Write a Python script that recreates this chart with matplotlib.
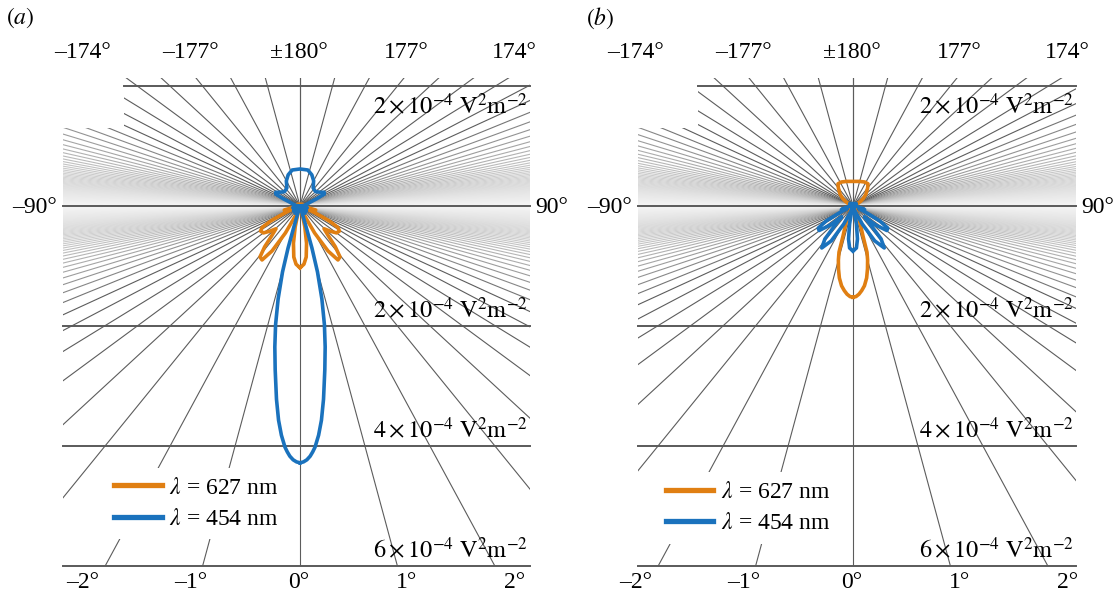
import numpy as np
import matplotlib
matplotlib.use("Agg")
import matplotlib.pyplot as plt
from matplotlib.collections import LineCollection
from matplotlib.lines import Line2D
from matplotlib.patches import Polygon

plt.rcParams["font.family"] = ["Liberation Serif", "DejaVu Serif"]
plt.rcParams["mathtext.fontset"] = "stix"

# ---------------------------------------------------------
# Data: far-field |E|^2 patterns, theta in degrees from 0 deg (forward),
# back lobes given as angle from 180 deg; r in units of 1e-4 V^2 m^-2
# ---------------------------------------------------------

# panel (a)
a_orange_fwd_theta = [0, 0.25, 0.45, 0.65, 0.85, 1.05, 1.25, 1.6, 2.0, 2.3, 2.6, 2.9,
                      3.2, 3.5, 3.9, 4.4, 5.0, 5.8, 6.5, 7.2, 8.0, 9.0, 11, 14, 20, 40, 90]
a_orange_fwd_r = [1.03, 0.97, 0.85, 0.62, 0.35, 0.12, 0.02, 0.12, 0.45, 0.75, 0.9, 0.85,
                  0.68, 0.5, 0.38, 0.42, 0.45, 0.42, 0.36, 0.25, 0.12, 0.05, 0.08, 0.07, 0.02, 0.0, 0.0]
a_orange_back_theta = [0, 5, 15, 90]
a_orange_back_r = [0.03, 0.03, 0.01, 0.0]

a_blue_fwd_theta = [0, 0.05, 0.1, 0.15, 0.19, 0.23, 0.3, 0.37, 0.45, 0.56, 0.66, 0.76,
                    0.87, 0.98, 1.05, 1.08, 1.12, 1.3, 1.6, 2.5, 3.5, 5, 8, 15, 40, 90]
a_blue_fwd_r = [4.28, 4.265, 4.23, 4.17, 4.1, 4.02, 3.82, 3.57, 3.22, 2.73, 2.35, 1.98,
                1.55, 1.1, 0.7, 0.35, 0.08, 0.02, 0.05, 0.12, 0.04, 0.08, 0.04, 0.03, 0.0, 0.0]
a_blue_back_theta = [0, 0.8, 1.4, 2.0, 2.7, 4.0, 5.5, 6.5, 7.5, 8.5, 10, 14, 25, 90]
a_blue_back_r = [0.617, 0.6, 0.52, 0.42, 0.30, 0.24, 0.23, 0.23, 0.2, 0.12, 0.06, 0.03, 0.01, 0.0]

# panel (b)
b_orange_fwd_theta = [0, 0.12, 0.25, 0.38, 0.53, 0.7, 0.85, 1.0, 1.12, 1.23, 1.5, 1.75,
                      2.0, 2.4, 3, 5, 10, 90]
b_orange_fwd_r = [1.52, 1.51, 1.47, 1.41, 1.33, 1.2, 1.05, 0.9, 0.77, 0.5, 0.3, 0.2,
                  0.1, 0.03, 0.05, 0.03, 0.02, 0.0]
b_orange_back_theta = [0, 1, 1.8, 2.5, 3, 3.5, 4, 5, 6, 8, 12, 90]
b_orange_back_r = [0.41, 0.41, 0.4, 0.37, 0.3, 0.24, 0.2, 0.13, 0.08, 0.03, 0.0, 0.0]

b_blue_fwd_theta = [0, 0.3, 0.5, 0.7, 0.9, 1.1, 1.5, 1.9, 2.3, 2.75, 3.15, 3.5, 3.9,
                    4.4, 5.1, 5.8, 6.6, 7.5, 9, 12, 16, 25, 90]
b_blue_fwd_r = [0.75, 0.7, 0.55, 0.3, 0.1, 0.03, 0.08, 0.3, 0.58, 0.7, 0.55, 0.3, 0.18,
                0.32, 0.41, 0.37, 0.25, 0.1, 0.04, 0.06, 0.03, 0.01, 0.0]
b_blue_back_theta = [0, 5, 20, 90]
b_blue_back_r = [0.04, 0.04, 0.01, 0.0]

top_labels = ["\u2013174\u00b0", "\u2013177\u00b0", "\u00b1180\u00b0", "177\u00b0", "174\u00b0"]
bottom_labels = ["\u20132\u00b0", "\u20131\u00b0", "0\u00b0", "1\u00b0", "2\u00b0"]
ring_values = [2, -2, -4, -6]
ring_text = ["2", "2", "4", "6"]
legend_labels = [r"$\lambda$ = 627 nm", r"$\lambda$ = 454 nm"]

ORANGE = "#E07F12"
BLUE = "#1A72BD"
S = 15.5  # horizontal stretch of the angular axis
PX = 60.0  # pixels per data unit


def to_xy(theta_deg, r):
    t = np.radians(np.asarray(theta_deg, dtype=float))
    r = np.asarray(r, dtype=float)
    return S * r * np.sin(t), -r * np.cos(t)


def pattern(fwd_t, fwd_r, back_t, back_r):
    th = np.concatenate([fwd_t, 180 - np.asarray(back_t, float)[::-1]])
    rr = np.concatenate([fwd_r, np.asarray(back_r, float)[::-1]])
    x, y = to_xy(th, rr)
    x = np.concatenate([x, -x[::-1]])
    y = np.concatenate([y, y[::-1]])
    return x, y


def draw_panel(ax, letter, x_left, x_step, x_right, curves, leg_anchor):
    # ax spans the panel; data unit = 60 px, origin at pattern centre
    top_r = (206 - 78) / PX
    y_step = (206 - 128) / PX
    bottom = -6.0
    clip = Polygon([(x_step, top_r), (x_right, top_r), (x_right, bottom),
                    (x_left, bottom), (x_left, y_step), (x_step, y_step)],
                   closed=True, transform=ax.transData, facecolor="none", edgecolor="none")
    ax.add_patch(clip)

    segs, greys = [], []
    for th in np.arange(-180, 181, 1):
        if abs(th) == 90:
            continue
        ex, ey = to_xy(th, 30.0)
        segs.append([(0, 0), (ex, ey)])
        t = np.radians(th)
        phi = np.degrees(np.arctan2(abs(np.cos(t)), S * abs(np.sin(t))))
        greys.append(0.36 + 0.6 * max(0.0, 1 - phi / 24.0) ** 0.7)
    order = np.argsort(greys)  # light lines drawn last, on top
    segs = [segs[i] for i in order]
    cols = [(greys[i],) * 3 for i in order]
    lc = LineCollection(segs, colors=cols, linewidths=0.8, zorder=1)
    ax.add_collection(lc)
    lc.set_clip_path(clip)

    # horizontal reference lines
    ax.plot([x_step, x_right], [2, 2], color="#5a5a5a", lw=1.4, zorder=2)
    for yv in [0, -2, -4, -6]:
        ax.plot([x_left, x_right], [yv, yv], color="#5a5a5a", lw=1.4, zorder=2)

    for (fx, fr, bx, br, col) in curves:
        x, y = pattern(fx, fr, bx, br)
        ax.plot(x, y, color=col, lw=2.6, solid_joinstyle="round", zorder=4)

    # labels
    fs = 17
    label_x = np.linspace(-3.63, 3.58, 5)
    for xv, s in zip(label_x, top_labels):
        ax.text(xv, 2.55, s, ha="center", va="center", fontsize=fs)
    for xv, s in zip(label_x, bottom_labels):
        ax.text(xv, -6.27, s, ha="center", va="center", fontsize=fs)
    ax.text(x_left - 0.1, -0.03, "\u201390\u00b0", ha="right", va="center", fontsize=fs)
    ax.text(x_right + 0.08, -0.03, "90\u00b0", ha="left", va="center", fontsize=fs)
    for yv, s in zip(ring_values, ring_text):
        ty = yv - 0.33 if yv > 0 else yv + 0.27
        ax.text(x_right - 0.03, ty,
                r"$%s\times10^{-4}\ \mathrm{V}^{2}\mathrm{m}^{-2}$" % s,
                ha="right", va="center", fontsize=17.5, zorder=3)
    ax.text(letter[1], 3.13, letter[0], ha="center", va="center", fontsize=fs)

    handles = [Line2D([0], [0], color=ORANGE, lw=3.8),
               Line2D([0], [0], color=BLUE, lw=3.8)]
    leg = ax.legend(handles, legend_labels, loc="upper left", bbox_to_anchor=leg_anchor,
                    bbox_transform=ax.transData, frameon=True, fancybox=False,
                    facecolor="white", edgecolor="none", framealpha=1, fontsize=fs,
                    handlelength=2.0, handletextpad=0.3, labelspacing=0.42,
                    borderpad=0.4, borderaxespad=0)
    leg.set_zorder(5)


fig = plt.figure(figsize=(11.17, 5.96), dpi=100)
W, H = 1117, 596

ax_a = fig.add_axes([0, 0, 558 / W, 1])
ax_a.set_xlim(-300 / PX, 258 / PX)
ax_a.set_ylim((206 - H) / PX, 206 / PX)
ax_a.axis("off")
draw_panel(ax_a, (r"$(a)$", -4.67), -(300 - 63) / PX, -(300 - 124) / PX, (530 - 300) / PX,
           [(a_orange_fwd_theta, a_orange_fwd_r, a_orange_back_theta, a_orange_back_r, ORANGE),
            (a_blue_fwd_theta, a_blue_fwd_r, a_blue_back_theta, a_blue_back_r, BLUE)],
           (-3.25, -4.36))

ax_b = fig.add_axes([558 / W, 0, (W - 558) / W, 1])
ax_b.set_xlim((558 - 853) / PX, (W - 853) / PX)
ax_b.set_ylim((206 - H) / PX, 206 / PX)
ax_b.axis("off")
draw_panel(ax_b, (r"$(b)$", -4.22), -(853 - 638) / PX, -(853 - 698) / PX, (1076 - 853) / PX,
           [(b_orange_fwd_theta, b_orange_fwd_r, b_orange_back_theta, b_orange_back_r, ORANGE),
            (b_blue_fwd_theta, b_blue_fwd_r, b_blue_back_theta, b_blue_back_r, BLUE)],
           (-3.27, -4.43))

fig.savefig("out.png", dpi=100)
